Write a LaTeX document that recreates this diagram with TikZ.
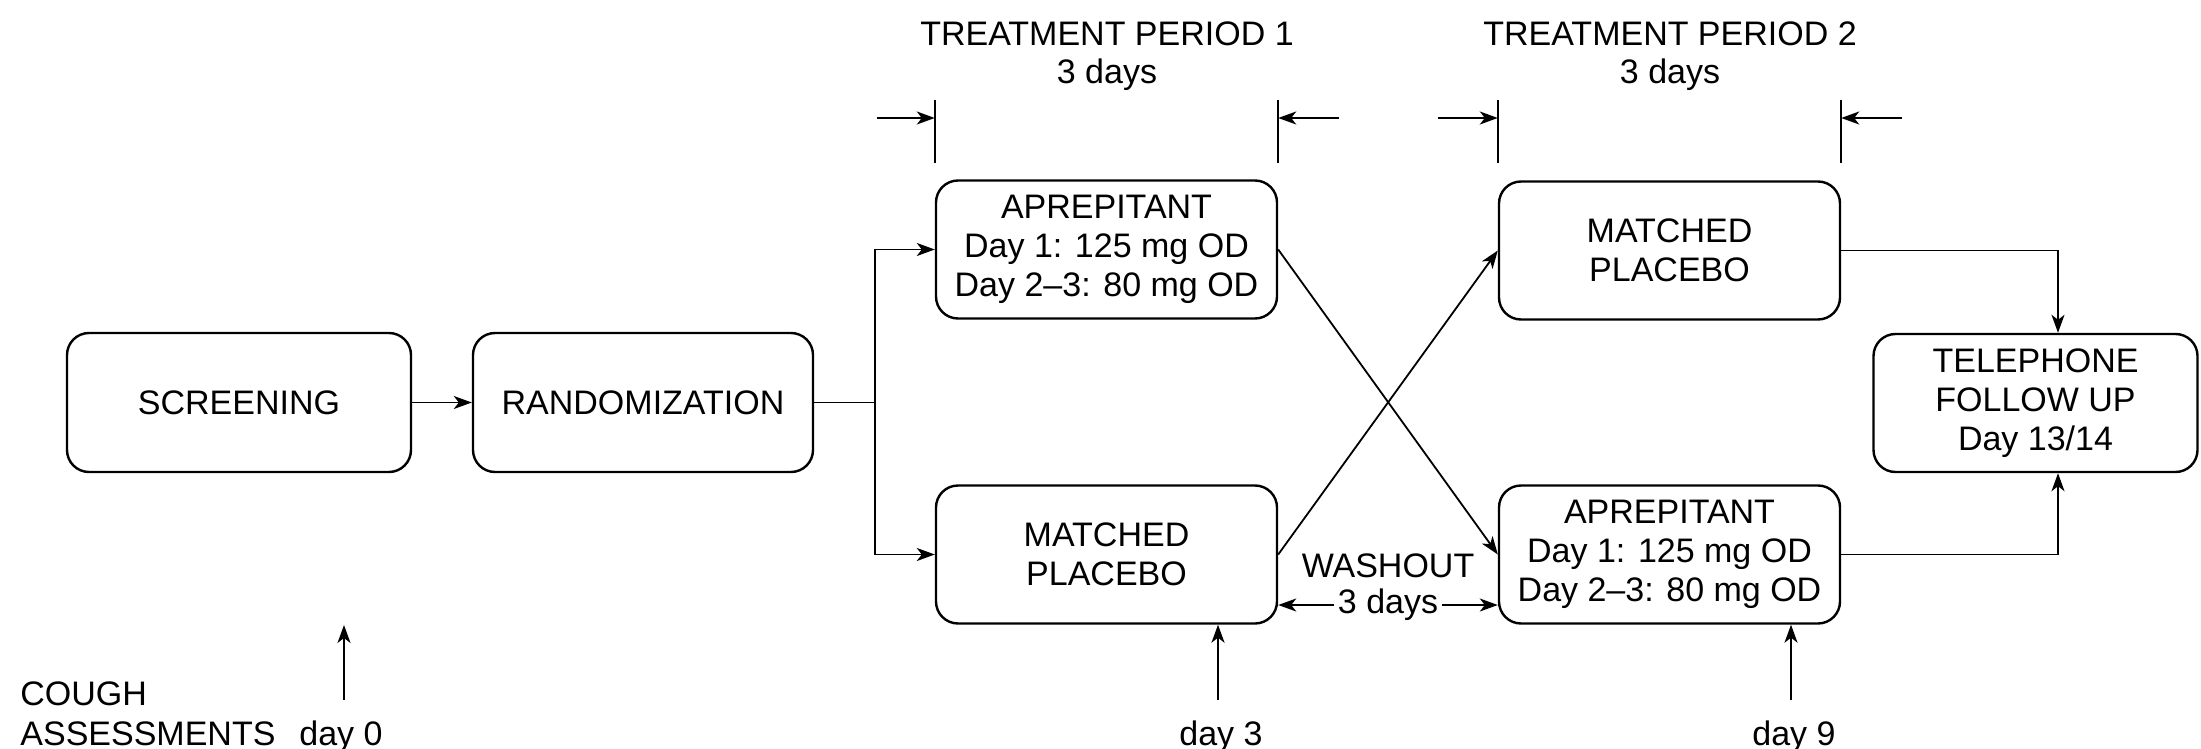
\documentclass[tikz,border=0pt]{standalone}
\usepackage{fontspec}
\setmainfont{Liberation Sans}
\usetikzlibrary{arrows.meta}
\begin{document}
\begin{tikzpicture}[x=0.5pt,y=-0.5pt,
  every node/.style={font=\fontsize{17}{19.5}\selectfont, text=black},
  box/.style={draw, line width=1.2pt, rounded corners=11pt, minimum width=170.5pt, minimum height=69pt, align=center, inner sep=2pt},
  arr/.style={line width=0.9pt, -{Stealth[length=9pt,width=6.5pt,inset=2.5pt]}},
  darr/.style={line width=0.9pt, {Stealth[length=9pt,width=6.5pt,inset=2.5pt]}-{Stealth[length=9pt,width=6.5pt,inset=2.5pt]}},
  ln/.style={line width=0.9pt},
  lbl/.style={anchor=base, inner sep=0pt}]
\useasboundingbox (0,0) rectangle (2201,749);

% boxes
\node[box, minimum width=172pt, minimum height=69.5pt] (scr) at (239,402.5) {SCREENING};
\node[box, minimum width=170pt, minimum height=69.5pt] (rnd) at (643,402.5) {RANDOMIZATION};
\node[box] (a1) at (1106.5,249.5) {APREPITANT\\Day 1: 125 mg OD\\Day 2–3: 80 mg OD};
\node[box] (p1) at (1106.5,554.5) {MATCHED\\PLACEBO};
\node[box] (p2) at (1669.5,250.5) {MATCHED\\PLACEBO};
\node[box] (a2) at (1669.5,554.5) {APREPITANT\\Day 1: 125 mg OD\\Day 2–3: 80 mg OD};
\node[box, minimum width=162pt] (tel) at (2035.5,403) {TELEPHONE\\FOLLOW UP\\Day 13/14};

% main flow
\draw[arr] (scr.east) -- (rnd.west);
\coordinate (fk) at (875,402.5);
\draw[ln] (rnd.east) -- (fk);
\draw[arr] (fk) |- (a1.west);
\draw[arr] (fk) |- (p1.west);
\draw[arr] (a1.east) -- (a2.west);
\draw[arr] (p1.east) -- (p2.west);
\coordinate (tx) at (2058,403);
\draw[arr] (p2.east) -| (tx |- tel.north);
\draw[arr] (a2.east) -| (tx |- tel.south);

% washout
\node (wash) at (1388,566) {WASHOUT};
\coordinate (wy) at (1388,605);
\draw[darr] (p1.east |- wy) -- node[fill=white, inner xsep=2pt, inner ysep=0pt] (w3) {3 days} (a2.west |- wy);

% treatment periods
\node[lbl] (tp1) at (1107,46) {TREATMENT PERIOD 1};
\node[lbl] (tp1d) at (1107,84) {3 days};
\node[lbl] (tp2) at (1670,46) {TREATMENT PERIOD 2};
\node[lbl] (tp2d) at (1670,84) {3 days};
\coordinate (ttop) at (0,100);
\coordinate (tbot) at (0,163);
\draw[ln] (a1.north west |- ttop) -- (a1.north west |- tbot);
\draw[ln] (a1.north east |- ttop) -- (a1.north east |- tbot);
\draw[ln] (p2.north west |- ttop) -- (p2.north west |- tbot);
\draw[ln] (p2.north east |- ttop) -- (p2.north east |- tbot);
\coordinate (l1) at (877,118);
\coordinate (r1) at (1339,118);
\coordinate (l2) at (1438,118);
\coordinate (r2) at (1902,118);
\draw[arr] (l1) -- (l1 -| a1.north west);
\draw[arr] (r1) -- (r1 -| a1.north east);
\draw[arr] (l2) -- (l2 -| p2.north west);
\draw[arr] (r2) -- (r2 -| p2.north east);

% cough assessments
\node[lbl, anchor=base west] (cough) at (20,705) {COUGH};
\node[lbl, anchor=base west] (assess) at (20,745) {ASSESSMENTS};
\node[lbl] (d0) at (341,745) {day 0};
\node[lbl] (d3) at (1221,745) {day 3};
\node[lbl] (d9) at (1794,745) {day 9};
\coordinate (d0a) at (344,700);
\coordinate (d0b) at (344,625);
\draw[arr] (d0a) -- (d0b);
\coordinate (d3a) at (1218,700);
\draw[arr] (d3a) -- (d3a |- p1.south);
\coordinate (d9a) at (1791,700);
\draw[arr] (d9a) -- (d9a |- a2.south);
\end{tikzpicture}
\end{document}
